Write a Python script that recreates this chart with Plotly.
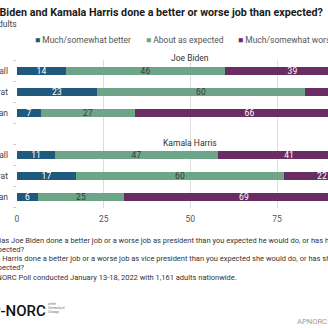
import plotly.graph_objects as go

# ---- data ----
groups = ["Joe Biden", "Kamala Harris"]
subgroups = ["Overall", "Democrat", "Republican"]
series_names = ["Much/somewhat better", "About as expected", "Much/somewhat worse"]
better = [14, 23, 7, 11, 17, 6]
same = [46, 60, 27, 47, 60, 25]
worse = [39, 17, 66, 41, 22, 69]
x_ticks = [0, 25, 50, 75, 100]

colors = ["#1f5a7e", "#6ea487", "#692d63"]
text_colors = ["#ffffff", "#3a3a3a", "#ffffff"]

# row positions (one empty row between groups)
ypos = [g * 4 + s for g in range(len(groups)) for s in range(len(subgroups))]
ylabels = [s for g in groups for s in subgroups]

# plot area in pixels
W, H = 328, 328
PL, PT, PR, PB = 17, 60, 0, 120
PW, PH = W - PL - PR, H - PT - PB


def px_x(px):
    return (px - PL) / PW


def px_y(py):
    return 1 - (py - PT) / PH


fig = go.Figure()
for name, vals, col, tcol in zip(series_names, [better, same, worse], colors, text_colors):
    fig.add_trace(go.Bar(
        y=ypos, x=vals, orientation="h", name=name,
        marker=dict(color=col, line=dict(width=0)),
        width=0.38,
        text=[str(v) for v in vals], textposition="inside",
        insidetextanchor="middle", textangle=0, constraintext="none",
        textfont=dict(family="Roboto", size=8.5, color=tcol),
        showlegend=False, hoverinfo="skip",
    ))

FONT = "Roboto"
ann = []
# title
ann.append(dict(text="<b>Have Joe Biden and Kamala Harris done a better or worse job than expected?</b>",
                x=px_x(325), y=px_y(12), xref="paper", yref="paper",
                xanchor="right", yanchor="middle", showarrow=False,
                font=dict(family=FONT, size=10.73, color="#1a1a1a")))
ann.append(dict(text="Among adults", x=px_x(-38), y=px_y(24), xref="paper", yref="paper",
                xanchor="left", yanchor="middle", showarrow=False,
                font=dict(family=FONT, size=8.5, color="#444444")))
# legend
for name, col, px in zip(series_names, colors, [33, 144, 236]):
    ann.append(dict(text=f"<span style='color:{col}'>■</span> {name}",
                    x=px_x(px), y=px_y(40), xref="paper", yref="paper",
                    xanchor="left", yanchor="middle", showarrow=False,
                    font=dict(family=FONT, size=8.5, color="#555555")))
# group labels (centred over the 50 mark of the axis)
for g, py in zip(groups, [58, 143]):
    ann.append(dict(text=g, x=px_x(17 + 50 * 3.467), y=px_y(py), xref="paper", yref="paper",
                    xanchor="center", yanchor="middle", showarrow=False,
                    font=dict(family=FONT, size=8.5, color="#333333")))
# footnotes
notes = [
    ("Q: Has Joe Biden done a better job or a worse job as president than you expected he would do, or has he done about as well as you", -15, 240),
    ("expected?", -12, 249),
    ("Q: Has Kamala Harris done a better job or a worse job as vice president than you expected she would do, or has she done about as well as you", -51, 258),
    ("expected?", -12, 267),
    ("Source: AP-NORC Poll conducted January 13-18, 2022 with 1,161 adults nationwide.", -44, 277),
]
for txt, px, py in notes:
    ann.append(dict(text=txt, x=px_x(px), y=px_y(py), xref="paper", yref="paper",
                    xanchor="left", yanchor="middle", showarrow=False,
                    font=dict(family=FONT, size=7.5, color="#333333")))
# logo
ann.append(dict(text="AP-NORC", x=px_x(-21), y=px_y(310.5), xref="paper", yref="paper",
                xanchor="left", yanchor="middle", showarrow=False,
                font=dict(family=FONT, size=15, color="#111111", weight=500)))
ann.append(dict(text="at the<br>University of<br>Chicago", x=px_x(46), y=px_y(308), xref="paper", yref="paper",
                xanchor="left", yanchor="middle", showarrow=False, align="left",
                font=dict(family=FONT, size=3, color="#666666")))
ann.append(dict(text="APNORC.org", x=px_x(295), y=px_y(321), xref="paper", yref="paper",
                xanchor="left", yanchor="middle", showarrow=False,
                font=dict(family=FONT, size=7.6, color="#9a9a9a")))

fig.update_layout(
    width=W, height=H,
    margin=dict(l=PL, r=PR, t=PT, b=PB, pad=0, autoexpand=False),
    barmode="stack", bargap=0,
    paper_bgcolor="white", plot_bgcolor="white",
    annotations=ann,
    xaxis=dict(range=[0, PW / 3.467], tickvals=x_ticks, ticktext=[str(t) for t in x_ticks],
               automargin=False,
               showgrid=True, gridcolor="#dddddd", gridwidth=1, zeroline=False,
               showline=False, ticks="", tickfont=dict(family=FONT, size=8.5, color="#555555"),
               ticklabelstandoff=4),
    yaxis=dict(range=[6.524, -0.524], tickvals=ypos, ticktext=ylabels,
               automargin=False,
               showgrid=False, zeroline=False, showline=False, ticks="",
               tickfont=dict(family=FONT, size=8.5, color="#444444"),
               ticklabelstandoff=8,
               minor=dict(tickvals=[-0.5, 0.5, 1.5, 2.5, 3.5, 4.5, 5.5, 6.5],
                          ticks="outside", ticklen=3, tickcolor="#cccccc", showgrid=False)),
)

fig.write_html("out.html")
